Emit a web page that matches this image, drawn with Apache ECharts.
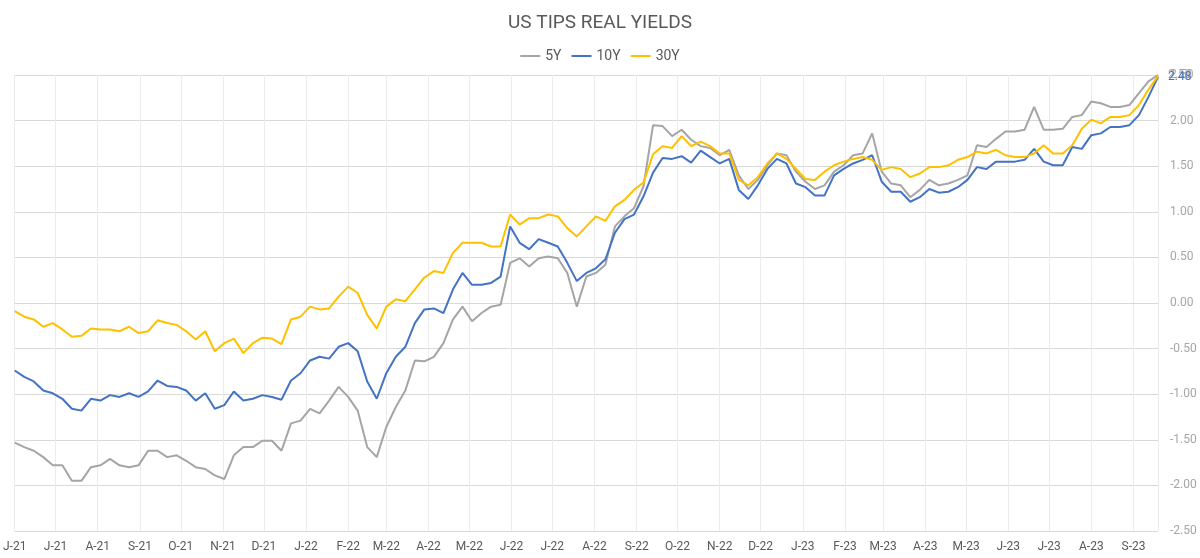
<!DOCTYPE html>
<html lang="en">
<head>
  <meta charset="UTF-8">
  <title>US TIPS Real Yields</title>
  <script src="https://cdn.jsdelivr.net/npm/echarts@6/dist/echarts.min.js"></script>
  <style>
    html, body { margin: 0; padding: 0; background: #fff; }
    #main { width: 1200px; height: 558px; }
  </style>
</head>
<body>
  <div id="main"></div>
  <script>
    // weekly readings, first one on 1 Jun 2021, one every 7 days
    let firstDay = [2021, 5, 1]

    let y5 = [
      -1.53, -1.58, -1.62, -1.69, -1.78, -1.78, -1.95, -1.95, -1.80, -1.78,
      -1.71, -1.78, -1.80, -1.78, -1.62, -1.62, -1.69, -1.67, -1.73, -1.80,
      -1.82, -1.89, -1.93, -1.67, -1.58, -1.58, -1.51, -1.51, -1.62, -1.32,
      -1.29, -1.16, -1.21, -1.07, -0.92, -1.03, -1.18, -1.58, -1.69, -1.36,
      -1.14, -0.96, -0.63, -0.64, -0.59, -0.44, -0.18, -0.04, -0.20, -0.11,
      -0.04, -0.02, 0.44, 0.49, 0.40, 0.49, 0.51, 0.49, 0.33, -0.04,
      0.29, 0.33, 0.42, 0.84, 0.95, 1.04, 1.28, 1.95, 1.94, 1.83,
      1.90, 1.79, 1.72, 1.70, 1.62, 1.68, 1.40, 1.25, 1.35, 1.51,
      1.64, 1.62, 1.44, 1.33, 1.25, 1.29, 1.44, 1.51, 1.62, 1.64,
      1.86, 1.44, 1.31, 1.29, 1.16, 1.24, 1.35, 1.29, 1.31, 1.35,
      1.40, 1.73, 1.71, 1.80, 1.88, 1.88, 1.90, 2.15, 1.90, 1.90,
      1.91, 2.04, 2.06, 2.21, 2.19, 2.15, 2.15, 2.17, 2.30, 2.43,
      2.50
    ]

    let y10 = [
      -0.74, -0.81, -0.86, -0.96, -0.99, -1.05, -1.16, -1.18, -1.05, -1.07,
      -1.01, -1.03, -0.99, -1.03, -0.97, -0.85, -0.91, -0.92, -0.96, -1.07,
      -0.99, -1.16, -1.12, -0.97, -1.07, -1.05, -1.01, -1.03, -1.06, -0.85,
      -0.77, -0.63, -0.59, -0.61, -0.48, -0.44, -0.53, -0.86, -1.05, -0.77,
      -0.59, -0.48, -0.22, -0.07, -0.06, -0.11, 0.15, 0.33, 0.20, 0.20,
      0.22, 0.29, 0.84, 0.66, 0.59, 0.70, 0.66, 0.62, 0.44, 0.24,
      0.33, 0.38, 0.48, 0.77, 0.92, 0.97, 1.17, 1.43, 1.59, 1.58,
      1.61, 1.54, 1.67, 1.60, 1.53, 1.58, 1.24, 1.14, 1.29, 1.47,
      1.58, 1.53, 1.31, 1.27, 1.18, 1.18, 1.40, 1.47, 1.53, 1.57,
      1.62, 1.33, 1.22, 1.22, 1.11, 1.16, 1.25, 1.21, 1.22, 1.27,
      1.35, 1.49, 1.47, 1.55, 1.55, 1.55, 1.57, 1.69, 1.55, 1.51,
      1.51, 1.71, 1.69, 1.84, 1.86, 1.93, 1.93, 1.95, 2.06, 2.26,
      2.48
    ]

    let y30 = [
      -0.09, -0.15, -0.18, -0.26, -0.22, -0.29, -0.37, -0.36, -0.28, -0.29,
      -0.29, -0.31, -0.26, -0.33, -0.31, -0.19, -0.22, -0.24, -0.31, -0.40,
      -0.31, -0.53, -0.44, -0.39, -0.55, -0.44, -0.38, -0.39, -0.45, -0.18,
      -0.15, -0.04, -0.07, -0.06, 0.07, 0.18, 0.11, -0.13, -0.28, -0.04,
      0.04, 0.02, 0.15, 0.28, 0.35, 0.33, 0.55, 0.66, 0.66, 0.66,
      0.62, 0.62, 0.97, 0.86, 0.93, 0.93, 0.97, 0.95, 0.82, 0.73,
      0.84, 0.95, 0.90, 1.06, 1.13, 1.24, 1.32, 1.63, 1.72, 1.70,
      1.83, 1.72, 1.77, 1.72, 1.64, 1.64, 1.35, 1.29, 1.38, 1.53,
      1.64, 1.58, 1.47, 1.36, 1.35, 1.44, 1.51, 1.55, 1.58, 1.60,
      1.57, 1.46, 1.49, 1.47, 1.38, 1.42, 1.49, 1.49, 1.51, 1.57,
      1.60, 1.66, 1.64, 1.68, 1.62, 1.60, 1.60, 1.64, 1.73, 1.64,
      1.64, 1.73, 1.91, 2.01, 1.97, 2.04, 2.04, 2.06, 2.17, 2.34,
      2.49
    ]

    let monthLetters = 'JFMAMJJASOND'
    let yTicks = { min: -2.5, max: 2.5, step: 0.5 }

    let dates = y5.map((v, i) => new Date(firstDay[0], firstDay[1], firstDay[2] + i * 7).getTime())
    let pairs = arr => arr.map((v, i) => [dates[i], v])

    let fmtMonth = v => {
      let d = new Date(v)
      return monthLetters[d.getMonth()] + '-' + String(d.getFullYear()).slice(2)
    }

    let chart = echarts.init(document.getElementById('main'))

    let lineSeries = (name, data, color, withLabel) => ({
      name: name,
      type: 'line',
      data: pairs(data),
      symbol: 'none',
      lineStyle: { width: 2, color: color },
      itemStyle: { color: color },
      endLabel: {
        show: withLabel,
        formatter: p => p.value[1].toFixed(2),
        color: color,
        fontSize: 12,
        fontFamily: 'Roboto',
        distance: 10
      }
    })

    chart.setOption({
      animation: false,
      title: {
        text: 'US TIPS REAL YIELDS',
        left: 'center',
        top: 9,
        textStyle: { color: '#595959', fontSize: 19, fontWeight: 'normal', fontFamily: 'Roboto' }
      },
      legend: {
        top: 44,
        left: 'center',
        icon: 'rect',
        itemWidth: 20,
        itemHeight: 2,
        itemGap: 10,
        textStyle: { color: '#595959', fontSize: 14, fontFamily: 'Roboto' },
        data: ['5Y', '10Y', '30Y']
      },
      grid: { left: 11, right: 42, top: 75, bottom: 27 },
      xAxis: {
        type: 'time',
        min: dates[0],
        max: dates[dates.length - 1],
        splitNumber: 28,
        minInterval: 28 * 864e5,
        maxInterval: 31 * 864e5,
        axisLine: { lineStyle: { color: '#D9D9D9' } },
        axisTick: { show: false },
        axisLabel: {
          color: '#595959',
          fontSize: 12,
          fontFamily: 'Roboto',
          margin: 10,
          hideOverlap: false,
          formatter: fmtMonth
        },
        splitLine: { show: true, lineStyle: { color: '#EBEBEB' } }
      },
      yAxis: {
        type: 'value',
        position: 'right',
        min: yTicks.min,
        max: yTicks.max,
        interval: yTicks.step,
        axisLine: { show: false },
        axisTick: { show: false },
        axisLabel: {
          color: '#A6A6A6',
          fontSize: 12,
          fontFamily: 'Roboto',
          margin: 12,
          formatter: v => v.toFixed(2)
        },
        splitLine: { lineStyle: { color: '#D9D9D9' } }
      },
      series: [
        lineSeries('5Y', y5, '#A5A5A5', true),
        lineSeries('10Y', y10, '#4472C4', true),
        lineSeries('30Y', y30, '#FFC000', false)
      ]
    })
  </script>
</body>
</html>
